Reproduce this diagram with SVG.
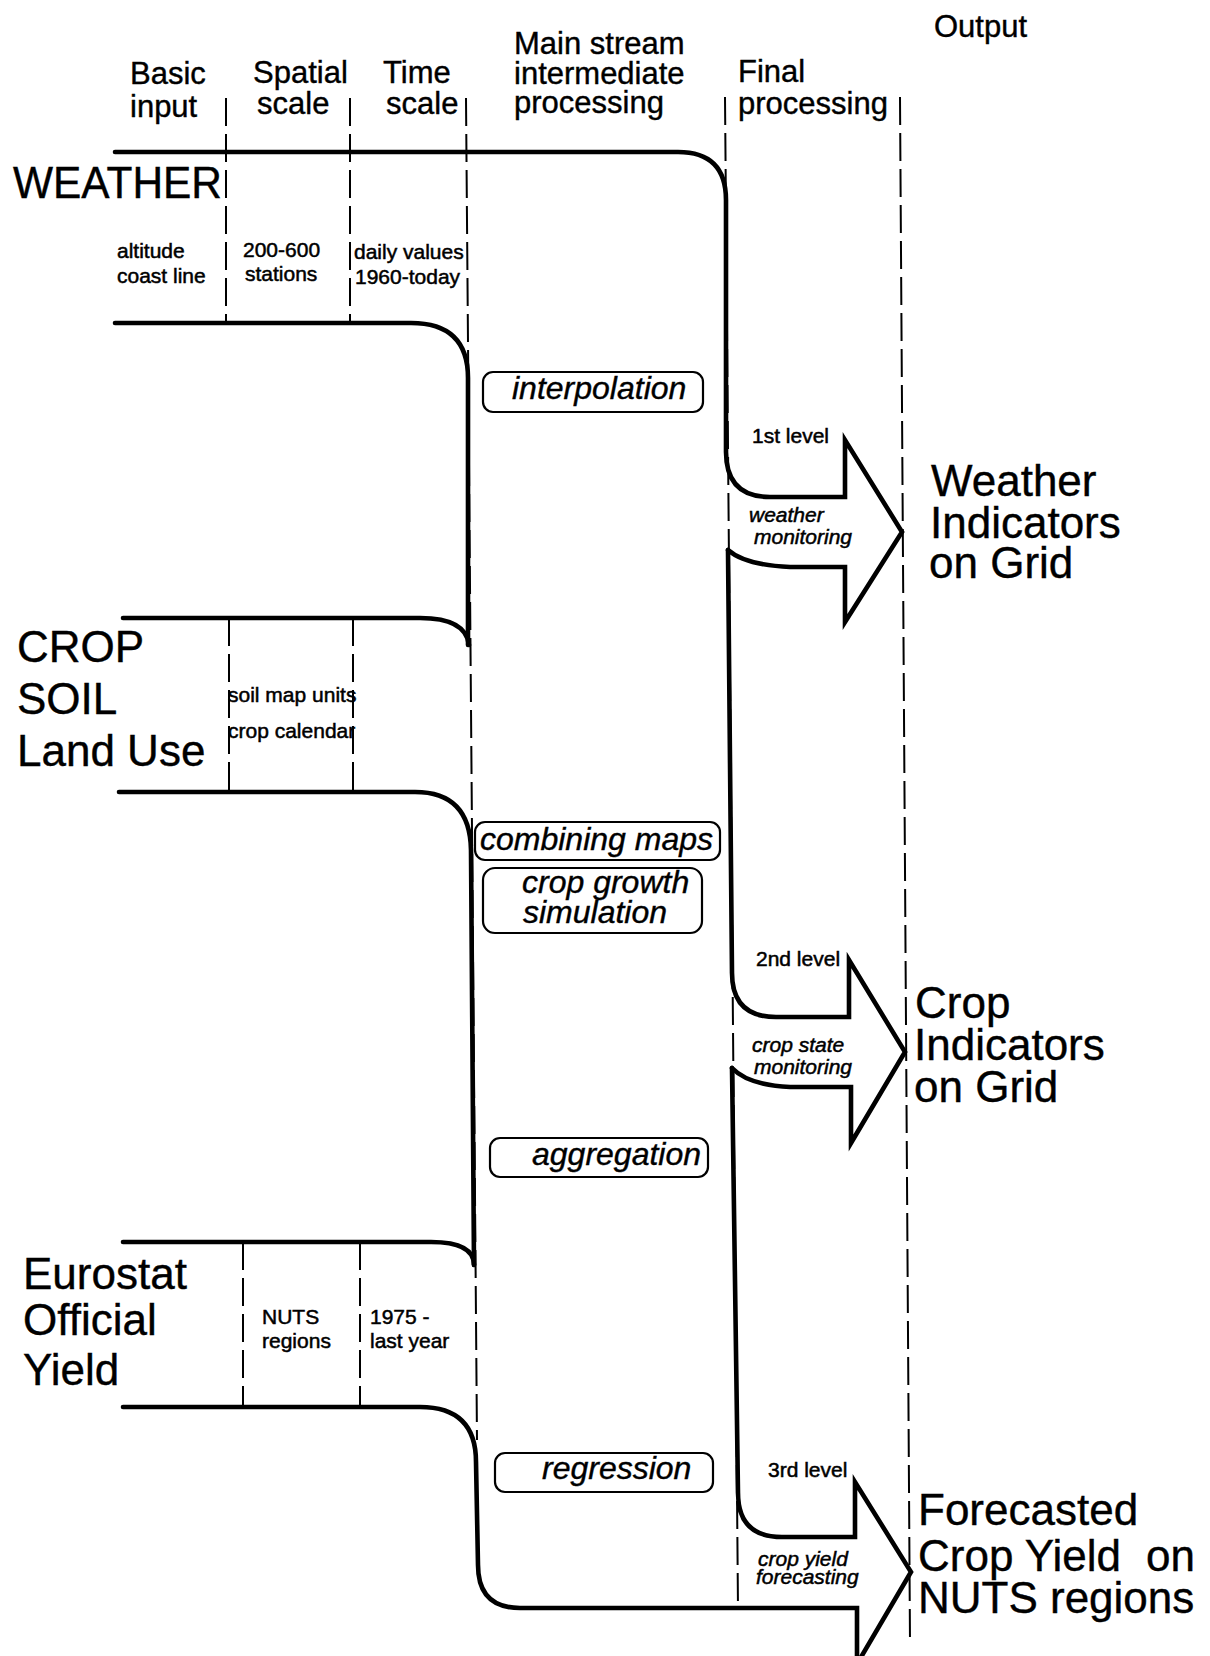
<svg xmlns="http://www.w3.org/2000/svg" width="1210" height="1656" viewBox="0 0 1210 1656">
<style>
text { font-family: "Liberation Sans", Arial, sans-serif; fill: #000; stroke: #000; stroke-width: 0.4; }
.hdr { font-size: 31px; }
.big { font-size: 44px; }
.sm { font-size: 21px; stroke-width: 0.5; }
.proc { font-size: 32px; font-style: italic; }
.mon { font-size: 21px; font-style: italic; stroke-width: 0.5; }
.flow { fill: none; stroke: #000; stroke-width: 4.6; stroke-linejoin: miter; stroke-linecap: round; }
.sep { fill: none; stroke: #000; stroke-width: 2; stroke-dasharray: 28 8; }
.box { fill: #fff; stroke: #000; stroke-width: 2.2; }
</style>
<rect width="1210" height="1656" fill="#fff"/>
<g id="separators">
  <path class="sep" d="M226 98 V323"/>
  <path class="sep" d="M350 98 V323"/>
  <path class="sep" d="M466 98 L477 1440"/>
  <path class="sep" d="M725 97 L738 1609"/>
  <path class="sep" d="M900 97 L910 1642"/>
  <path class="sep" d="M229 618 V792"/>
  <path class="sep" d="M353 618 V792"/>
  <path class="sep" d="M243 1242 V1407"/>
  <path class="sep" d="M360 1242 V1407"/>
</g>
<g id="connectors">
  <path class="flow" d="M115 152 H678 Q726 152 726 200 V452 Q726 497 770 497 H845 V440 L902 532 L845 622 V567 H790 Q745 565 728 550"/>
  <path class="flow" d="M728 550 L732 973 Q732 1017 776 1017 H849 V960 L905 1052 L851 1143 V1087 H790 Q748 1085 732 1068"/>
  <path class="flow" d="M732 1068 L738 1493 Q738 1537 782 1537 H855 V1482 L911 1572 L857 1664"/>
  <path class="flow" d="M115 323 H411 Q468 323 468 378 V645"/>
  <path class="flow" d="M123 618 H420 Q466 618 469 645"/>
  <path class="flow" d="M119 792 H415 Q470 792 471 850 L474 1265"/>
  <path class="flow" d="M123 1242 H431 Q474 1242 474 1265"/>
  <path class="flow" d="M123 1407 H420 Q476 1407 476 1462 L478 1565 Q478 1608 520 1608 H857 V1664"/>
</g>
<g id="header-basic-input"><text class="hdr"><tspan x="130" y="84">Basic</tspan><tspan x="130" y="117">input</tspan></text></g>
<g id="header-spatial-scale"><text class="hdr"><tspan x="253" y="83">Spatial</tspan><tspan x="257" y="114">scale</tspan></text></g>
<g id="header-time-scale"><text class="hdr"><tspan x="383" y="83">Time</tspan><tspan x="386" y="114">scale</tspan></text></g>
<g id="header-main-stream"><text class="hdr"><tspan x="514" y="54">Main stream</tspan><tspan x="514" y="84">intermediate</tspan><tspan x="514" y="113">processing</tspan></text></g>
<g id="header-final"><text class="hdr"><tspan x="738" y="82">Final</tspan><tspan x="738" y="114">processing</tspan></text></g>
<g id="header-output"><text class="hdr" x="934" y="37">Output</text></g>

<g id="input-weather">
  <text class="big" x="13" y="198" textLength="209" lengthAdjust="spacingAndGlyphs">WEATHER</text>
  <text class="sm"><tspan x="117" y="258">altitude</tspan><tspan x="117" y="283">coast line</tspan></text>
  <text class="sm"><tspan x="243" y="257">200-600</tspan><tspan x="245" y="281">stations</tspan></text>
  <text class="sm"><tspan x="354" y="259">daily values</tspan><tspan x="355" y="284">1960-today</tspan></text>
</g>
<g id="input-crop-soil">
  <text class="big"><tspan x="17" y="662">CROP</tspan><tspan x="17" y="714">SOIL</tspan><tspan x="17" y="766">Land Use</tspan></text>
  <text class="sm"><tspan x="228" y="702">soil map units</tspan><tspan x="228" y="738">crop calendar</tspan></text>
</g>
<g id="input-eurostat">
  <text class="big"><tspan x="23" y="1289">Eurostat</tspan><tspan x="23" y="1335">Official</tspan><tspan x="23" y="1385">Yield</tspan></text>
  <text class="sm"><tspan x="262" y="1324">NUTS</tspan><tspan x="262" y="1348">regions</tspan></text>
  <text class="sm"><tspan x="370" y="1324">1975 -</tspan><tspan x="370" y="1348">last year</tspan></text>
</g>

<g id="proc-interpolation"><rect class="box" x="483" y="372" width="220" height="40" rx="10"/><text class="proc" x="512" y="399">interpolation</text></g>
<g id="proc-combining-maps"><rect class="box" x="475" y="822" width="245" height="38" rx="10"/><text class="proc" x="480" y="850">combining maps</text></g>
<g id="proc-crop-growth"><rect class="box" x="483" y="868" width="219" height="65" rx="12"/><text class="proc"><tspan x="522" y="893">crop growth</tspan><tspan x="523" y="923">simulation</tspan></text></g>
<g id="proc-aggregation"><rect class="box" x="490" y="1138" width="218" height="39" rx="10"/><text class="proc" x="532" y="1165">aggregation</text></g>
<g id="proc-regression"><rect class="box" x="495" y="1453" width="218" height="39" rx="10"/><text class="proc" x="542" y="1479">regression</text></g>

<g id="level-1"><text class="sm" x="752" y="443">1st level</text><text class="mon"><tspan x="749" y="522">weather</tspan><tspan x="754" y="544">monitoring</tspan></text></g>
<g id="level-2"><text class="sm" x="756" y="966">2nd level</text><text class="mon"><tspan x="752" y="1052">crop state</tspan><tspan x="754" y="1074">monitoring</tspan></text></g>
<g id="level-3"><text class="sm" x="768" y="1477">3rd level</text><text class="mon"><tspan x="758" y="1566">crop yield</tspan><tspan x="756" y="1584">forecasting</tspan></text></g>

<g id="output-weather"><text class="big"><tspan x="931" y="496">Weather</tspan><tspan x="930" y="538">Indicators</tspan><tspan x="929" y="578">on Grid</tspan></text></g>
<g id="output-crop"><text class="big"><tspan x="915" y="1018">Crop</tspan><tspan x="914" y="1060">Indicators</tspan><tspan x="914" y="1102">on Grid</tspan></text></g>
<g id="output-yield"><text class="big"><tspan x="918" y="1525">Forecasted</tspan><tspan x="918" y="1571">Crop Yield</tspan><tspan x="1146" y="1571">on</tspan><tspan x="918" y="1613">NUTS regions</tspan></text></g>
</svg>
